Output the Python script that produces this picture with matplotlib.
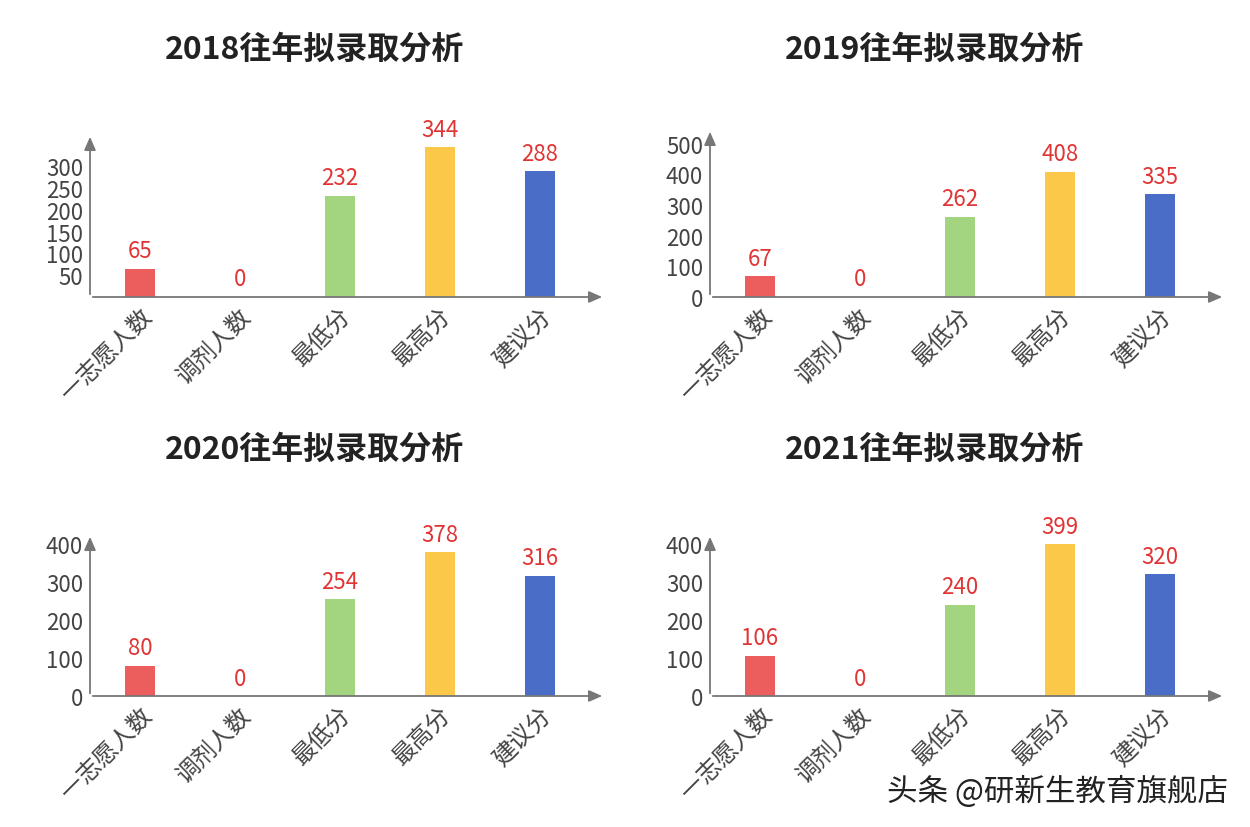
import matplotlib.pyplot as plt
from matplotlib import font_manager

names = {f.name for f in font_manager.fontManager.ttflist}
cjk = [n for n in ["Noto Sans CJK SC", "Noto Sans CJK JP", "Noto Sans CJK TC",
                   "Noto Sans CJK KR", "Noto Sans SC"] if n in names]
plt.rcParams["font.family"] = "sans-serif"
plt.rcParams["font.sans-serif"] = cjk + ["DejaVu Sans"]

categories = ["一志愿人数", "调剂人数", "最低分", "最高分", "建议分"]
years = ["2018", "2019", "2020", "2021"]
values = {
    "2018": [65, 0, 232, 344, 288],
    "2019": [67, 0, 262, 408, 335],
    "2020": [80, 0, 254, 378, 316],
    "2021": [106, 0, 240, 399, 320],
}
yticks = {
    "2018": [50, 100, 150, 200, 250, 300],
    "2019": [0, 100, 200, 300, 400, 500],
    "2020": [0, 100, 200, 300, 400],
    "2021": [0, 100, 200, 300, 400],
}
ymax = {"2018": 374, "2019": 548, "2020": 426, "2021": 426}
colors = ["#ec5e5e", "#888888", "#a3d47f", "#fcc84a", "#4a6dc8"]

W, H = 1250, 828
fig = plt.figure(figsize=(W / 100, H / 100), dpi=100)
fig.patch.set_facecolor("white")

# pixel boxes: left, right, bottom, top
boxes = {"2018": (90, 605, 298, 135), "2019": (710, 1225, 298, 130),
         "2020": (90, 605, 697, 535), "2021": (710, 1225, 697, 535)}
title_pos = {"2018": (315, 50), "2019": (935, 50), "2020": (315, 450), "2021": (935, 450)}

for yr in years:
    l, r, b, t = boxes[yr]
    ax = fig.add_axes([l / W, 1 - b / H, (r - l) / W, (b - t) / H])
    ax.set_xlim(-0.5, 4.65)
    ax.set_ylim(0, ymax[yr])
    for s in ax.spines.values():
        s.set_visible(False)
    arrow = dict(arrowstyle="-|>,head_length=0.8,head_width=0.35", color="#777777", lw=1.3)
    ax.annotate("", xy=(0, 1), xytext=(0, 0), xycoords="axes fraction", arrowprops=arrow)
    ax.annotate("", xy=(1, 0), xytext=(0, 0), xycoords="axes fraction", arrowprops=arrow)
    x = range(len(categories))
    ax.bar(x, values[yr], width=0.3, color=colors)
    for i, v in enumerate(values[yr]):
        ax.text(i, v + ymax[yr] * 0.04, str(v), ha="center", va="bottom",
                color="#e03535", fontsize=16)
    ax.set_yticks(yticks[yr])
    ax.set_yticklabels([str(v) for v in yticks[yr]], fontsize=16, color="#444444")
    ax.set_xticks(list(x))
    ax.set_xticklabels(categories, rotation=45, ha="right", rotation_mode="anchor",
                       fontsize=17, color="#444444")
    ax.tick_params(length=0, pad=5)
    tx, ty = title_pos[yr]
    fig.text(tx / W, 1 - ty / H, yr + "往年拟录取分析", ha="center", va="center",
             fontsize=23, fontweight="bold", color="#222222")

fig.text(1228 / W, 1 - 792 / H, "头条 @研新生教育旗舰店", ha="right", va="center",
         fontsize=22, color="#222222")

fig.savefig("out.png", dpi=100)
